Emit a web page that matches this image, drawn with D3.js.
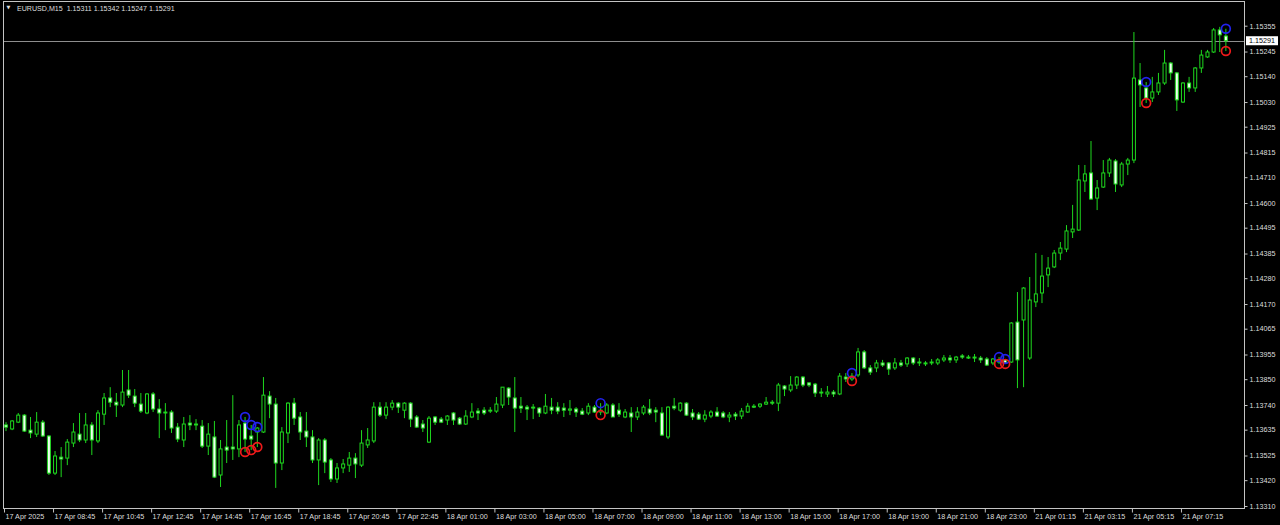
<!DOCTYPE html>
<html><head><meta charset="utf-8">
<script src="https://cdn.jsdelivr.net/npm/d3@7"></script>
<style>html,body{margin:0;padding:0;background:#000;overflow:hidden}svg{display:block}</style>
</head><body>
<svg id="chart" width="1280" height="525"></svg>
<script>
const symbolLabel = "EURUSD,M15";

const opens = [1.13655,1.13638,1.13667,1.13697,1.13633,1.13616,1.13667,1.13608,1.13450,1.13518,
1.13514,1.13578,1.13616,1.13591,1.13655,1.13587,1.13701,1.13770,1.13752,1.13740,
1.13804,1.13778,1.13744,1.13706,1.13787,1.13723,1.13710,1.13710,1.13646,1.13591,
1.13663,1.13659,1.13650,1.13565,1.13604,1.13442,1.13561,1.13561,1.13553,1.13663,
1.13608,1.13625,1.13625,1.13778,1.13744,1.13493,1.13621,1.13748,1.13689,1.13629,
1.13604,1.13506,1.13591,1.13506,1.13425,1.13472,1.13484,1.13514,1.13484,1.13570,
1.13587,1.13731,1.13697,1.13731,1.13748,1.13718,1.13748,1.13689,1.13659,1.13582,
1.13689,1.13680,1.13676,1.13706,1.13684,1.13659,1.13689,1.13714,1.13718,1.13714,
1.13714,1.13740,1.13812,1.13770,1.13735,1.13731,1.13731,1.13727,1.13706,1.13731,
1.13731,1.13727,1.13718,1.13723,1.13714,1.13706,1.13731,1.13710,1.13706,1.13740,
1.13718,1.13689,1.13706,1.13689,1.13706,1.13723,1.13718,1.13706,1.13604,1.13735,
1.13718,1.13748,1.13706,1.13701,1.13680,1.13693,1.13710,1.13706,1.13689,1.13701,
1.13693,1.13710,1.13735,1.13735,1.13744,1.13752,1.13748,1.13821,1.13804,1.13825,
1.13859,1.13834,1.13829,1.13795,1.13787,1.13795,1.13787,1.13859,1.13851,1.13868,
1.13966,1.13898,1.13898,1.13919,1.13919,1.13898,1.13919,1.13915,1.13940,1.13923,
1.13919,1.13919,1.13919,1.13932,1.13940,1.13932,1.13949,1.13944,1.13944,1.13940,
1.13936,1.13919,1.13923,1.13932,1.13923,1.14093,1.14102,1.13940,1.14179,1.14217,
1.14294,1.14328,1.14387,1.14404,1.14477,1.14485,1.14694,1.14728,1.14621,1.14668,
1.14728,1.14779,1.14677,1.14766,1.14783,1.15124,1.15090,1.15047,1.15073,1.15111,
1.15196,1.15154,1.15030,1.15111,1.15090,1.15175,1.15222,1.15243,1.15337,1.15311];

const highs = [1.13667,1.13676,1.13706,1.13701,1.13689,1.13710,1.13676,1.13612,1.13544,1.13561,
1.13595,1.13663,1.13706,1.13706,1.13667,1.13718,1.13791,1.13816,1.13791,1.13889,
1.13889,1.13808,1.13791,1.13791,1.13795,1.13765,1.13748,1.13718,1.13663,1.13689,
1.13697,1.13680,1.13676,1.13663,1.13672,1.13591,1.13676,1.13782,1.13676,1.13689,
1.13655,1.13646,1.13859,1.13799,1.13770,1.13646,1.13752,1.13770,1.13710,1.13710,
1.13633,1.13599,1.13599,1.13514,1.13493,1.13510,1.13540,1.13535,1.13633,1.13642,
1.13752,1.13752,1.13752,1.13761,1.13752,1.13752,1.13752,1.13697,1.13676,1.13693,
1.13693,1.13689,1.13697,1.13710,1.13689,1.13718,1.13748,1.13727,1.13731,1.13731,
1.13774,1.13816,1.13816,1.13859,1.13774,1.13740,1.13744,1.13731,1.13787,1.13770,
1.13752,1.13748,1.13761,1.13731,1.13727,1.13748,1.13740,1.13748,1.13748,1.13748,
1.13748,1.13723,1.13731,1.13731,1.13740,1.13765,1.13731,1.13731,1.13735,1.13770,
1.13752,1.13752,1.13723,1.13710,1.13718,1.13718,1.13731,1.13714,1.13710,1.13710,
1.13727,1.13748,1.13744,1.13748,1.13774,1.13761,1.13834,1.13825,1.13863,1.13863,
1.13863,1.13838,1.13834,1.13812,1.13821,1.13804,1.13876,1.13876,1.13876,1.13983,
1.13974,1.13910,1.13932,1.13932,1.13923,1.13940,1.13932,1.13944,1.13944,1.13940,
1.13927,1.13936,1.13940,1.13953,1.13953,1.13949,1.13957,1.13953,1.13957,1.13949,
1.13944,1.13940,1.13944,1.13936,1.14093,1.14221,1.14242,1.14285,1.14387,1.14379,
1.14370,1.14400,1.14434,1.14506,1.14592,1.14762,1.14762,1.14864,1.14698,1.14783,
1.14792,1.14787,1.14775,1.14792,1.15328,1.15196,1.15115,1.15137,1.15154,1.15252,
1.15200,1.15158,1.15115,1.15137,1.15179,1.15252,1.15252,1.15345,1.15350,1.15342];

const lows = [1.13629,1.13633,1.13663,1.13625,1.13599,1.13604,1.13604,1.13442,1.13442,1.13433,
1.13484,1.13561,1.13582,1.13578,1.13527,1.13578,1.13655,1.13731,1.13689,1.13731,
1.13770,1.13731,1.13706,1.13701,1.13710,1.13599,1.13633,1.13621,1.13582,1.13561,
1.13633,1.13633,1.13557,1.13527,1.13429,1.13391,1.13493,1.13506,1.13518,1.13540,
1.13548,1.13561,1.13621,1.13684,1.13387,1.13463,1.13578,1.13655,1.13591,1.13561,
1.13493,1.13399,1.13450,1.13412,1.13408,1.13450,1.13455,1.13429,1.13476,1.13557,
1.13578,1.13689,1.13680,1.13718,1.13706,1.13684,1.13646,1.13642,1.13625,1.13578,
1.13655,1.13663,1.13655,1.13655,1.13655,1.13655,1.13684,1.13676,1.13697,1.13706,
1.13706,1.13727,1.13740,1.13625,1.13706,1.13676,1.13680,1.13689,1.13701,1.13701,
1.13701,1.13689,1.13697,1.13689,1.13697,1.13697,1.13706,1.13697,1.13701,1.13689,
1.13689,1.13684,1.13625,1.13676,1.13697,1.13697,1.13667,1.13608,1.13595,1.13718,
1.13710,1.13693,1.13676,1.13676,1.13667,1.13684,1.13689,1.13684,1.13667,1.13676,
1.13680,1.13706,1.13727,1.13727,1.13740,1.13740,1.13714,1.13778,1.13795,1.13808,
1.13816,1.13816,1.13774,1.13774,1.13774,1.13774,1.13782,1.13838,1.13842,1.13859,
1.13893,1.13868,1.13880,1.13902,1.13868,1.13889,1.13902,1.13902,1.13910,1.13906,
1.13906,1.13910,1.13910,1.13923,1.13919,1.13919,1.13936,1.13936,1.13923,1.13919,
1.13906,1.13910,1.13915,1.13915,1.13919,1.13812,1.13816,1.13932,1.14157,1.14174,
1.14242,1.14323,1.14357,1.14391,1.14451,1.14481,1.14647,1.14613,1.14570,1.14664,
1.14711,1.14647,1.14668,1.14719,1.14770,1.15009,1.15026,1.15030,1.15060,1.15103,
1.15124,1.14992,1.15026,1.15073,1.15073,1.15154,1.15218,1.15239,1.15243,1.15247];

const closes = [1.13646,1.13672,1.13697,1.13629,1.13621,1.13667,1.13608,1.13450,1.13523,1.13510,
1.13582,1.13625,1.13591,1.13655,1.13591,1.13706,1.13770,1.13752,1.13740,1.13795,
1.13782,1.13748,1.13714,1.13787,1.13723,1.13706,1.13706,1.13642,1.13595,1.13659,
1.13655,1.13655,1.13565,1.13616,1.13433,1.13553,1.13548,1.13553,1.13655,1.13595,
1.13595,1.13642,1.13782,1.13744,1.13493,1.13625,1.13748,1.13684,1.13625,1.13604,
1.13506,1.13591,1.13497,1.13425,1.13472,1.13489,1.13514,1.13489,1.13578,1.13591,
1.13731,1.13697,1.13731,1.13748,1.13731,1.13748,1.13680,1.13646,1.13642,1.13684,
1.13667,1.13667,1.13693,1.13676,1.13659,1.13693,1.13710,1.13706,1.13706,1.13718,
1.13744,1.13816,1.13774,1.13727,1.13727,1.13723,1.13727,1.13706,1.13735,1.13718,
1.13714,1.13718,1.13723,1.13710,1.13701,1.13735,1.13710,1.13718,1.13740,1.13689,
1.13701,1.13710,1.13689,1.13710,1.13731,1.13706,1.13710,1.13612,1.13731,1.13727,
1.13748,1.13697,1.13689,1.13680,1.13697,1.13710,1.13693,1.13689,1.13697,1.13693,
1.13714,1.13735,1.13731,1.13744,1.13752,1.13748,1.13825,1.13808,1.13825,1.13859,
1.13825,1.13825,1.13791,1.13791,1.13795,1.13787,1.13863,1.13851,1.13863,1.13966,
1.13898,1.13880,1.13919,1.13910,1.13893,1.13919,1.13910,1.13940,1.13919,1.13919,
1.13915,1.13923,1.13932,1.13940,1.13932,1.13944,1.13944,1.13940,1.13940,1.13932,
1.13910,1.13936,1.13932,1.13919,1.14089,1.13932,1.14238,1.14187,1.14213,1.14289,
1.14323,1.14387,1.14408,1.14481,1.14489,1.14698,1.14724,1.14617,1.14664,1.14728,
1.14783,1.14681,1.14766,1.14783,1.15132,1.15103,1.15047,1.15073,1.15111,1.15196,
1.15154,1.15039,1.15111,1.15090,1.15175,1.15230,1.15243,1.15337,1.15316,1.15291];

const timeTickIndex = [0,8,16,24,32,40,48,56,64,72,80,88,96,104,112,120,128,136,144,152,160,168,176,184,192];
const timeTickLabels = ["17 Apr 2025","17 Apr 08:45","17 Apr 10:45","17 Apr 12:45","17 Apr 14:45","17 Apr 16:45",
"17 Apr 18:45","17 Apr 20:45","17 Apr 22:45","18 Apr 01:00","18 Apr 03:00","18 Apr 05:00","18 Apr 07:00",
"18 Apr 09:00","18 Apr 11:00","18 Apr 13:00","18 Apr 15:00","18 Apr 17:00","18 Apr 19:00","18 Apr 21:00",
"18 Apr 23:00","21 Apr 01:15","21 Apr 03:15","21 Apr 05:15","21 Apr 07:15"];

const priceTicks = [1.15355,1.15245,1.15140,1.15030,1.14925,1.14815,1.14710,1.14600,1.14495,1.14385,
1.14280,1.14170,1.14065,1.13955,1.13850,1.13740,1.13635,1.13525,1.13420,1.13310];

const markerIndex = [39,40,41,97,138,162,163,186,199];

// ---------- drawing ----------
const svg = d3.select("#chart");
const W = 1280, H = 525;
const plot = {left: 3.5, top: 1.5, right: 1244.5, bottom: 508.5};
const n = opens.length;
const barStep = 6.13;
const x = d3.scaleLinear().domain([0, n - 1]).range([6, 6 + barStep * (n - 1)]);
const y = d3.scaleLinear().domain([priceTicks[priceTicks.length - 1], priceTicks[0]]).range([506, 25.7]);

const fontFam = "'Liberation Sans', Arial, sans-serif";
const textCol = "#dedede";
const frameCol = "#c4c4c4";
const green = "#1ed81e";
const bearFill = "#effff0";

svg.append("rect").attr("width", W).attr("height", H).attr("fill", "#000");

const data = opens.map((o, i) => ({i, o, h: highs[i], l: lows[i], c: closes[i]}));

// current price line (behind candles)
const last = data[n - 1];
svg.append("line")
  .attr("x1", plot.left).attr("x2", plot.right)
  .attr("y1", Math.round(y(last.c)) + 0.5).attr("y2", Math.round(y(last.c)) + 0.5)
  .attr("stroke", "#8e8e8e").attr("stroke-width", 1);

const g = svg.append("g");
// wicks
g.selectAll("line.wick").data(data).join("line")
  .attr("class", "wick")
  .attr("x1", d => x(d.i)).attr("x2", d => x(d.i))
  .attr("y1", d => y(d.h)).attr("y2", d => y(d.l))
  .attr("stroke", green).attr("stroke-width", 1);
// bodies
g.selectAll("rect.body").data(data).join("rect")
  .attr("class", "body")
  .attr("x", d => x(d.i) - 1.5)
  .attr("width", 3)
  .attr("y", d => y(Math.max(d.o, d.c)))
  .attr("height", d => Math.max(0.6, Math.abs(y(d.o) - y(d.c))))
  .attr("fill", d => d.c > d.o ? "#000" : bearFill)
  .attr("stroke", green).attr("stroke-width", 1);

// markers: blue at highs, red at lows
const mk = markerIndex.map(i => data[i]);
svg.append("g").selectAll("circle").data(mk).join("circle")
  .attr("cx", d => x(d.i)).attr("cy", d => y(d.h)).attr("r", 4.4)
  .attr("fill", "none").attr("stroke", "#2222ee").attr("stroke-width", 1.7);
svg.append("g").selectAll("circle").data(mk).join("circle")
  .attr("cx", d => x(d.i)).attr("cy", d => y(d.l)).attr("r", 4.4)
  .attr("fill", "none").attr("stroke", "#ee1a1a").attr("stroke-width", 1.7);

// frame
svg.append("rect")
  .attr("x", plot.left).attr("y", plot.top)
  .attr("width", plot.right - plot.left).attr("height", plot.bottom - plot.top)
  .attr("fill", "none").attr("stroke", frameCol).attr("stroke-width", 1);

// price axis
const yAxis = svg.append("g").attr("transform", `translate(${plot.right},0)`)
  .call(d3.axisRight(y).tickValues(priceTicks).tickSize(3).tickPadding(2).tickFormat(d3.format(".5f")));
yAxis.select(".domain").remove();
yAxis.selectAll("line").attr("stroke", frameCol);
yAxis.selectAll("text").attr("fill", textCol).style("font-family", fontFam).style("font-size", "7.2px");

// time axis
const xTick = d3.scaleLinear().domain(x.domain()).range(x.range().map(v => v - 2));
const xAxis = svg.append("g").attr("transform", `translate(0,${plot.bottom})`)
  .call(d3.axisBottom(xTick).tickValues(timeTickIndex).tickSize(4).tickFormat((d, k) => timeTickLabels[k]));
xAxis.select(".domain").remove();
xAxis.selectAll("line").attr("stroke", frameCol);
xAxis.selectAll("text").attr("fill", textCol).attr("text-anchor", "start")
  .attr("x", 1).attr("y", 10).attr("dy", 0)
  .style("font-family", fontFam).style("font-size", "7.2px");

// current price tag
const f5 = d3.format(".5f");
const yc = y(last.c);
svg.append("rect").attr("x", plot.right + 1.5).attr("y", yc - 4.5).attr("width", 32).attr("height", 9).attr("fill", "#fff");
svg.append("text").attr("x", plot.right + 4.5).attr("y", yc + 2.6).text(f5(last.c))
  .attr("fill", "#000").style("font-family", fontFam).style("font-size", "7.2px");

// title
svg.append("text").attr("x", 6.5).attr("y", 9).text("▼")
  .attr("fill", textCol).style("font-family", "'DejaVu Sans', sans-serif").style("font-size", "5px");
svg.append("text").attr("x", 17).attr("y", 10.5)
  .text(`${symbolLabel}  ${f5(last.o)} ${f5(last.h)} ${f5(last.l)} ${f5(last.c)}`)
  .attr("fill", textCol).style("font-family", fontFam).style("font-size", "7.1px")
  .attr("xml:space", "preserve").style("white-space", "pre");
</script>
</body></html>
